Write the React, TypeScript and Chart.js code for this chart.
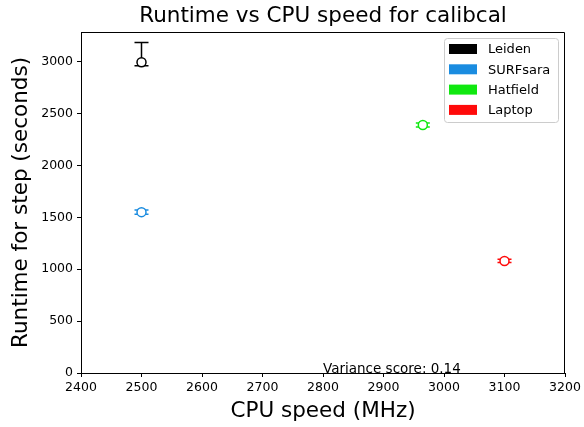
import React, { useEffect, useRef } from "react";
import { Chart, registerables } from "chart.js";
Chart.register(...registerables);

const sites = ["Leiden", "SURFsara", "Hatfield", "Laptop"];
const colors = ["#000000", "#1a8ce0", "#10e810", "#ff0a0a"];
const cpuSpeed = [2500, 2500, 2965, 3100];
const runtime = [2995, 1550, 2390, 1080];
const errLow = [35, 20, 20, 15];
const errHigh = [190, 20, 20, 15];
const xTicks = [2400, 2500, 2600, 2700, 2800, 2900, 3000, 3100, 3200];
const yTicks = [0, 500, 1000, 1500, 2000, 2500, 3000];
const titleText = "Runtime vs CPU speed for calibcal";
const xTitle = "CPU speed (MHz)";
const yTitle = "Runtime for step (seconds)";
const annotation = "Variance score: 0.14";
const annotationAt = [2800, 0];

const FONT = "'DejaVu Sans', sans-serif";

const extrasPlugin = {
  id: "extras",
  beforeDatasetsDraw(chart: any) {
    const ctx = chart.ctx;
    const xs = chart.scales.x;
    const ys = chart.scales.y;
    ctx.save();
    ctx.lineWidth = 1.5;
    for (let i = 0; i < sites.length; i++) {
      const px = xs.getPixelForValue(cpuSpeed[i]);
      const top = ys.getPixelForValue(runtime[i] + errHigh[i]);
      const bot = ys.getPixelForValue(runtime[i] - errLow[i]);
      ctx.strokeStyle = colors[i];
      ctx.beginPath();
      ctx.moveTo(px, top);
      ctx.lineTo(px, bot);
      ctx.moveTo(px - 7, top);
      ctx.lineTo(px + 7, top);
      ctx.moveTo(px - 7, bot);
      ctx.lineTo(px + 7, bot);
      ctx.stroke();
    }
    ctx.restore();
  },
  afterDraw(chart: any) {
    const ctx = chart.ctx;
    const a = chart.chartArea;
    const xs = chart.scales.x;
    const ys = chart.scales.y;
    ctx.save();
    // frame
    ctx.strokeStyle = "#000";
    ctx.lineWidth = 1;
    ctx.beginPath();
    ctx.moveTo(a.left, a.top + 0.5);
    ctx.lineTo(a.right - 0.5, a.top + 0.5);
    ctx.lineTo(a.right - 0.5, a.bottom);
    ctx.stroke();
    // title
    ctx.fillStyle = "#000";
    ctx.font = `21.5px ${FONT}`;
    ctx.textAlign = "center";
    ctx.textBaseline = "alphabetic";
    ctx.fillText(titleText, (a.left + a.right) / 2, 22);
    // x title
    ctx.fillText(xTitle, (a.left + a.right) / 2, 417);
    // y title
    ctx.save();
    ctx.translate(27, (a.top + a.bottom) / 2);
    ctx.rotate(-Math.PI / 2);
    ctx.fillText(yTitle, 0, 0);
    ctx.restore();
    // annotation
    ctx.font = `13.5px ${FONT}`;
    ctx.textAlign = "left";
    ctx.textBaseline = "alphabetic";
    ctx.fillText(annotation, xs.getPixelForValue(annotationAt[0]), ys.getPixelForValue(annotationAt[1]));
    // legend
    const lx = 444, ly = 38, lw = 114, lh = 84;
    ctx.fillStyle = "rgba(255,255,255,0.85)";
    ctx.strokeStyle = "#cccccc";
    ctx.lineWidth = 1;
    ctx.beginPath();
    (ctx as any).roundRect(lx + 0.5, ly + 0.5, lw, lh, 3);
    ctx.fill();
    ctx.stroke();
    ctx.font = `13px ${FONT}`;
    ctx.textBaseline = "middle";
    for (let i = 0; i < sites.length; i++) {
      const cy = ly + 11 + i * 20.3;
      ctx.fillStyle = colors[i];
      ctx.fillRect(lx + 5, cy - 5, 28, 10);
      ctx.fillStyle = "#000";
      ctx.fillText(sites[i], lx + 44, cy + 1);
    }
    ctx.restore();
  },
};

export default function App() {
  const ref = useRef<HTMLCanvasElement>(null);
  useEffect(() => {
    document.body.style.margin = "0";
    const chart = new Chart(ref.current!, {
      type: "scatter",
      data: {
        datasets: sites.map((s, i) => ({
          label: s,
          data: [{ x: cpuSpeed[i], y: runtime[i] }],
          borderColor: colors[i],
          backgroundColor: "#ffffff",
          pointRadius: 4.5,
          pointBorderWidth: 1.5,
        })),
      },
      options: {
        animation: false,
        responsive: false,
        layout: { padding: { top: 32, right: 19, left: 0, bottom: 0 } },
        plugins: { legend: { display: false }, tooltip: { enabled: false }, title: { display: false } },
        scales: {
          x: {
            type: "linear",
            min: 2400,
            max: 3200,
            afterBuildTicks: (s: any) => { s.ticks = xTicks.map((v) => ({ value: v })); },
            afterFit: (s: any) => { s.height = 54; },
            ticks: { color: "#000", font: { family: FONT, size: 12.5 }, padding: 3, maxRotation: 0, callback: (v: any) => String(v) },
            grid: { display: true, drawOnChartArea: false, drawTicks: true, tickLength: 4, color: "#000" },
            border: { display: true, color: "#000" },
          },
          y: {
            type: "linear",
            min: 0,
            max: 3286,
            afterBuildTicks: (s: any) => { s.ticks = yTicks.map((v) => ({ value: v })); },
            afterFit: (s: any) => { s.width = 81; },
            ticks: { color: "#000", font: { family: FONT, size: 12.5 }, padding: 4, callback: (v: any) => String(v) },
            grid: { display: true, drawOnChartArea: false, drawTicks: true, tickLength: 4, color: "#000" },
            border: { display: true, color: "#000" },
          },
        },
      } as any,
      plugins: [extrasPlugin],
    });
    return () => chart.destroy();
  }, []);
  return (
    <div style={{ position: "absolute", left: 0, top: 0, width: 584, height: 427, background: "#fff" }}>
      <canvas ref={ref} width={584} height={427} style={{ width: 584, height: 427 }} />
    </div>
  );
}
